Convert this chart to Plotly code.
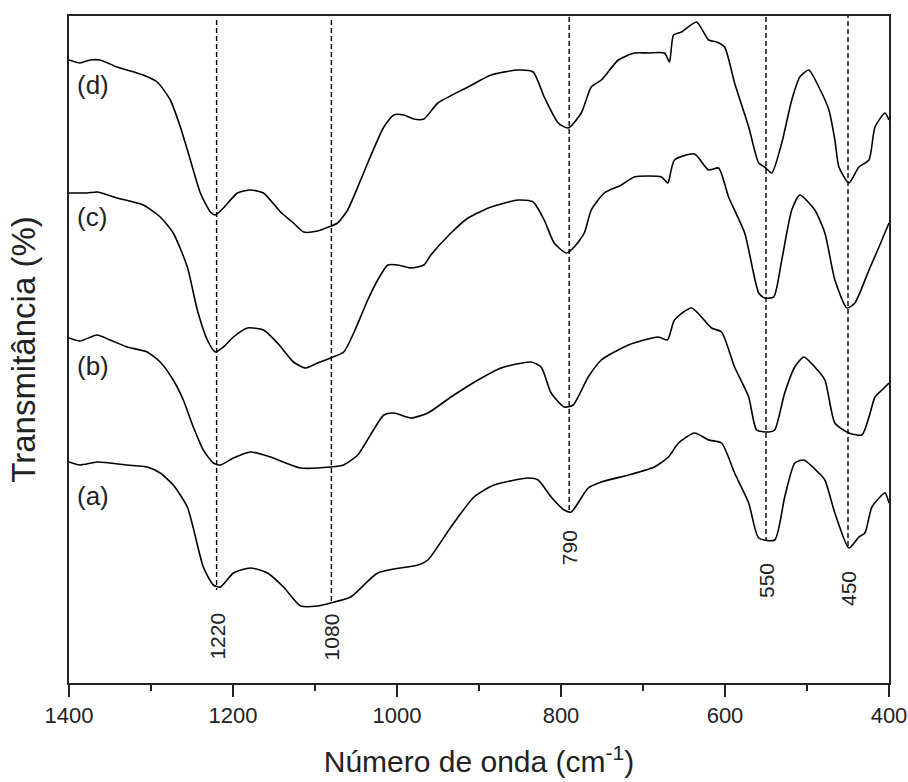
import plotly.graph_objects as go

# Wavenumber (cm^-1) and transmittance (arbitrary offset units)
wn_d = [1400, 1386.6, 1374.3, 1362.1, 1341.3, 1309.5, 1292.4, 1276.5, 1264.2, 1252.0, 1239.8, 1227.5, 1221.5,
        1211.7, 1194.6, 1178.7, 1162.8, 1142.1, 1126.2, 1113.9, 1096.8, 1083.4, 1072.4, 1060.2, 1044.3, 1035.7,
        1016.1, 1003.9, 991.7, 979.5, 967.2, 950.1, 913.4, 885.3, 852.3, 834.0, 820.5, 803.4, 791.2, 775.3,
        763.1, 750.8, 730.1, 710.5, 693.4, 673.8, 667.7, 662.8, 653.0, 634.7, 620.0, 610.3, 600.5, 588.3,
        571.1, 558.9, 551.6, 543.0, 530.8, 518.6, 508.8, 497.8, 485.6, 473.3, 466.0, 461.1, 448.9, 436.7,
        424.4, 417.1, 404.9, 400]
tr_d = [62.3, 62.0, 62.3, 62.3, 61.6, 60.8, 60.1, 58.3, 55.6, 52.3, 49.0, 47.1, 46.8,
        47.5, 49.0, 49.3, 49.0, 47.1, 46.0, 45.1, 45.2, 45.6, 46.0, 47.3, 50.3, 52.0,
        55.6, 56.8, 56.8, 56.4, 56.4, 58.0, 59.6, 60.8, 61.3, 61.1, 58.6, 56.0, 55.5, 57.0,
        59.6, 60.3, 62.3, 63.0, 63.0, 63.0, 62.1, 64.8, 65.1, 66.1, 64.3, 64.1, 63.6, 60.0,
        55.6, 52.0, 51.6, 51.0, 54.0, 58.3, 60.6, 61.3, 59.6, 57.3, 54.3, 51.6, 50.0, 51.6,
        52.3, 55.6, 57.0, 56.3]

wn_c = [1400, 1378.0, 1365.8, 1341.3, 1309.5, 1288.8, 1272.9, 1255.7, 1243.5, 1231.3, 1221.5, 1211.7, 1199.5,
        1182.4, 1162.8, 1145.7, 1126.2, 1111.5, 1096.8, 1080.9, 1065.0, 1052.8, 1035.7, 1023.5, 1011.2, 999.0,
        983.1, 967.2, 958.7, 934.2, 913.4, 885.3, 852.3, 834.0, 820.5, 808.3, 793.6, 783.9, 771.6, 763.1,
        747.2, 726.4, 710.5, 677.5, 670.2, 668.9, 661.6, 637.2, 620.0, 607.8, 595.6, 576.0, 558.9, 551.6,
        540.6, 530.8, 518.6, 508.8, 490.5, 478.2, 466.0, 451.3, 441.6, 424.4, 412.2, 400]
tr_c = [49.0, 49.0, 49.1, 48.5, 47.8, 46.6, 45.0, 41.6, 37.3, 34.3, 33.1, 33.6, 34.6,
        35.5, 35.3, 34.0, 32.1, 31.5, 32.0, 32.5, 33.1, 35.0, 38.3, 40.3, 41.8, 41.8,
        41.5, 41.8, 42.8, 45.0, 46.5, 47.6, 48.3, 48.1, 46.3, 44.0, 43.0, 43.6, 45.0, 47.3,
        49.0, 49.8, 50.6, 50.6, 50.0, 50.1, 52.3, 52.9, 51.3, 51.5, 48.6, 45.0, 39.0, 38.5,
        38.6, 42.3, 47.3, 48.8, 47.3, 45.0, 40.3, 37.5, 38.0, 41.3, 43.6, 46.0]

wn_b = [1400, 1386.6, 1365.8, 1349.9, 1329.1, 1304.6, 1288.8, 1272.9, 1260.6, 1248.4, 1236.2, 1224.0, 1215.4,
        1199.5, 1178.7, 1154.3, 1117.6, 1080.9, 1065.0, 1047.9, 1016.1, 1003.9, 983.1, 962.4, 934.2, 901.2,
        873.1, 836.4, 824.2, 812.0, 796.1, 785.1, 766.8, 750.8, 717.8, 681.2, 670.2, 661.6, 640.8, 616.4,
        604.2, 588.3, 571.1, 561.4, 546.7, 539.4, 527.2, 514.9, 503.9, 490.5, 478.2, 466.0, 448.9, 433.0,
        424.4, 417.1, 408.6, 400]
tr_b = [34.5, 34.2, 34.8, 34.3, 33.6, 33.1, 32.1, 30.3, 28.3, 25.6, 23.3, 22.0, 21.8,
        22.5, 23.1, 22.6, 21.5, 21.6, 21.8, 22.8, 26.8, 27.0, 26.5, 27.0, 28.6, 30.3,
        31.5, 32.1, 31.6, 29.0, 27.6, 27.8, 30.6, 32.3, 33.8, 34.6, 34.3, 36.3, 37.5, 35.5,
        35.1, 31.6, 28.6, 25.3, 25.1, 25.3, 29.0, 31.6, 32.6, 31.6, 30.3, 26.0, 25.0, 24.8,
        26.6, 28.6, 29.3, 30.0]

wn_a = [1400, 1386.6, 1365.8, 1329.1, 1304.6, 1288.8, 1272.9, 1255.7, 1236.2, 1224.0, 1215.4, 1199.5, 1178.7,
        1157.9, 1138.4, 1117.6, 1096.8, 1080.9, 1056.5, 1023.5, 974.6, 962.4, 934.2, 906.1, 881.7, 840.1,
        827.9, 812.0, 796.1, 787.5, 766.8, 750.8, 717.8, 686.1, 669.0, 656.7, 637.2, 620.0, 604.2, 588.3,
        571.1, 558.9, 539.4, 527.2, 514.9, 503.9, 485.6, 478.2, 466.0, 448.9, 436.7, 429.4, 420.8, 404.9, 400]
tr_a = [22.1, 21.8, 22.1, 21.8, 21.6, 21.0, 19.8, 17.6, 11.6, 9.8, 9.6, 11.0, 11.5,
        11.0, 9.6, 7.7, 7.7, 8.0, 8.6, 11.0, 11.8, 12.3, 15.6, 18.6, 19.8, 20.5,
        20.3, 18.6, 17.3, 17.1, 19.5, 20.1, 20.8, 21.6, 22.6, 24.0, 25.0, 24.3, 24.0, 21.0,
        18.0, 14.5, 14.3, 18.6, 22.0, 22.3, 21.0, 20.3, 17.0, 13.5, 14.6, 15.0, 17.6, 19.0, 18.0]

series_names = ["(d)", "(c)", "(b)", "(a)"]
series_label_y = [59.8, 46.6, 31.7, 18.7]

peak_positions = [1220, 1080, 790, 550, 450]
peak_line_top = [66.3, 66.3, 66.6, 66.6, 67.0]
peak_line_bottom = [9.3, 8.1, 17.0, 14.3, 13.5]
peak_label_y = [4.7, 4.6, 13.5, 10.2, 9.4]
peak_labels = ["1220", "1080", "790", "550", "450"]

x_tick_vals = [1400, 1200, 1000, 800, 600, 400]
x_tick_text = ["1400", "1200", "1000", "800", "600", "400"]

FONT = "Liberation Sans, Arial, sans-serif"

fig = go.Figure()

for wn, tr, name in zip([wn_d, wn_c, wn_b, wn_a], [tr_d, tr_c, tr_b, tr_a], series_names):
    fig.add_trace(go.Scatter(x=wn, y=tr, mode="lines", name=name,
                             line=dict(color="black", width=1.6, shape="spline", smoothing=0.6),
                             showlegend=False))

for p, top, bot in zip(peak_positions, peak_line_top, peak_line_bottom):
    fig.add_trace(go.Scatter(x=[p, p], y=[top, bot], mode="lines", showlegend=False,
                             line=dict(color="black", width=1.4, dash="5px,3px"), cliponaxis=False))

for name, yv in zip(series_names, series_label_y):
    fig.add_annotation(x=1393, y=yv, text=name, showarrow=False, xanchor="left", yanchor="middle",
                       font=dict(family=FONT, size=26, color="#222"))

for p, yv, lab in zip(peak_positions, peak_label_y, peak_labels):
    fig.add_annotation(x=p, y=yv, text=lab, showarrow=False, textangle=-90,
                       xanchor="center", yanchor="middle",
                       font=dict(family=FONT, size=21, color="#222"))

fig.update_layout(
    width=908, height=782,
    margin=dict(l=69, r=19, t=16, b=99),
    paper_bgcolor="white", plot_bgcolor="white",
    font=dict(family=FONT, color="#222"),
    xaxis=dict(range=[1400, 400], tickvals=x_tick_vals, ticktext=x_tick_text,
               ticks="outside", ticklen=12, tickwidth=1.5, tickcolor="#222",
               minor=dict(dtick=100, ticks="outside", ticklen=6, tickwidth=1.5, tickcolor="#222"),
               showline=True, linecolor="#222", linewidth=1.6, mirror=True,
               showgrid=False, zeroline=False, automargin=False,
               tickfont=dict(family=FONT, size=22, color="#222"),
               title=dict(text="Número de onda (cm<sup>-1</sup>)", font=dict(family=FONT, size=30, color="#222"),
                          standoff=24)),
    yaxis=dict(range=[0, 66.7], showticklabels=False, ticks="",
               showline=True, linecolor="#222", linewidth=1.6, mirror=True,
               showgrid=False, zeroline=False, automargin=False,
               title=dict(text="Transmitância (%)", font=dict(family=FONT, size=33, color="#222"),
                          standoff=22)),
)

fig.write_html("out.html")
